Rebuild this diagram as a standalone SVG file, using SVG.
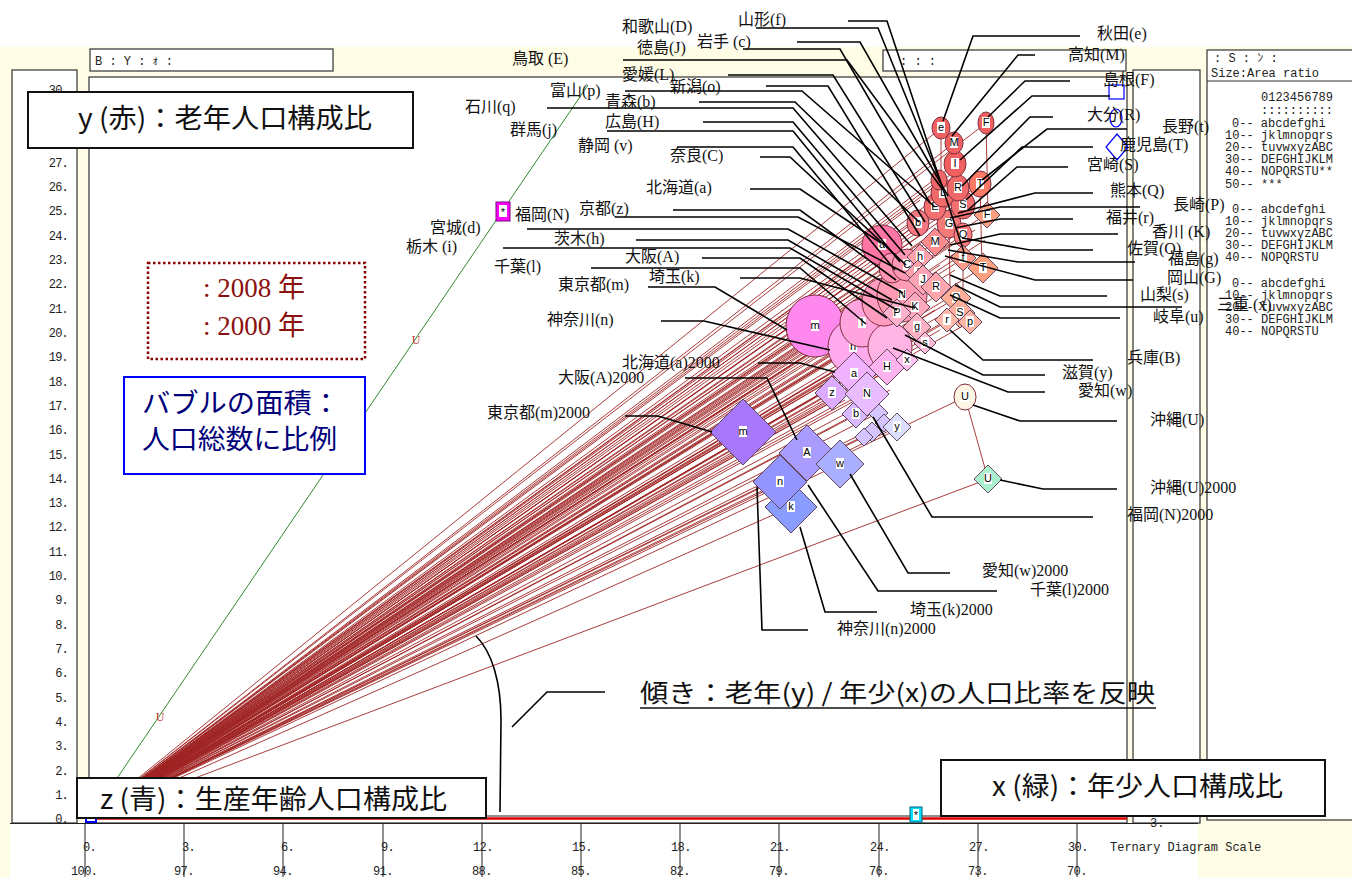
<svg xmlns="http://www.w3.org/2000/svg" width="1352" height="877" viewBox="0 0 1352 877">
<defs>
<style>
.pn{fill:#fff;stroke:#333;stroke-width:1.2}
.ax{font-family:"Liberation Mono","DejaVu Sans Mono",monospace;font-size:12px;fill:#222}
.lg{font-family:"Liberation Mono","Noto Sans CJK JP",monospace;font-size:12px;fill:#222}
.pl{font-family:"Liberation Serif","Noto Sans CJK JP",serif;font-size:16px;fill:#111}
.big{font-family:"Noto Sans CJK JP","Liberation Sans",sans-serif;font-size:27px;fill:#111}
.bx{fill:#fff;stroke:#111;stroke-width:2}
.fan{stroke:#a02525;stroke-width:.9;fill:none}
.ld{stroke:#000;stroke-width:1.6;fill:none}
.c{stroke:#803040;stroke-width:1}
.d{stroke:#604860;stroke-width:1}
.lb{fill:#fff}
.lt{font-family:"Liberation Sans",sans-serif;font-size:11px;fill:#000;text-anchor:middle}
.tk{stroke:#222;stroke-width:1}
</style>
</defs>
<rect x="0" y="0" width="1352" height="877" fill="#fff"/>
<g id="frame">
<rect x="0" y="47" width="1352" height="776" fill="#fffde6"/>
<rect x="1198" y="823" width="154" height="54" fill="#fffde6"/>
<rect x="0" y="823" width="10" height="54" fill="#fffde6"/>
<rect class="pn" x="12" y="70" width="65" height="753"/>
<rect class="pn" x="89" y="77" width="1038" height="746"/>
<rect class="pn" x="90" y="49" width="243" height="22"/>
<rect class="pn" x="883" y="50" width="243" height="21"/>
<rect class="pn" x="1133" y="70" width="67" height="753"/>
<rect class="pn" x="1207" y="50" width="150" height="770"/>
<line x1="1207" y1="81" x2="1352" y2="81" stroke="#333" stroke-width="1.2"/>
<line x1="89" y1="816" x2="1127" y2="816" stroke="#222" stroke-width="1"/>
<line x1="89" y1="818.5" x2="1127" y2="818.5" stroke="#e00000" stroke-width="2.5"/>
<line x1="10" y1="823.5" x2="1198" y2="823.5" stroke="#222" stroke-width="1.2"/>
<text class="lg" x="95" y="65">B : Y : ｫ :</text>
<text class="lg" x="900" y="65">:    :    :</text>
<text class="lg" x="1214" y="62" font-size="11"> : S : ﾝ :</text>
<text class="lg" x="1211" y="77">Size:Area ratio</text>
<text class="lg" x="1150" y="827">3.</text>
</g>
<g id="legend-codes" class="lg">
<text x="1261" y="101">0123456789</text>
<text x="1261" y="114">::::::::::</text>
<text x="1232" y="127">0--  abcdefghi</text>
<text x="1225" y="139">10-- jklmnopqrs</text>
<text x="1225" y="151">20-- tuvwxyzABC</text>
<text x="1225" y="163">30-- DEFGHIJKLM</text>
<text x="1225" y="175">40-- NOPQRSTU**</text>
<text x="1225" y="188">50-- ***</text>
<text x="1232" y="213">0--  abcdefghi</text>
<text x="1225" y="225">10-- jklmnopqrs</text>
<text x="1225" y="237">20-- tuvwxyzABC</text>
<text x="1225" y="249">30-- DEFGHIJKLM</text>
<text x="1225" y="261">40-- NOPQRSTU</text>
<text x="1232" y="287">0--  abcdefghi</text>
<text x="1225" y="299">10-- jklmnopqrs</text>
<text x="1225" y="311">20-- tuvwxyzABC</text>
<text x="1225" y="323">30-- DEFGHIJKLM</text>
<text x="1225" y="335">40-- NOPQRSTU</text>
</g>
<g id="y-axis" class="ax" text-anchor="end" letter-spacing="-0.8">
<text x="68" y="94">30.</text><text x="68" y="118">29.</text><text x="68" y="143">28.</text><text x="68" y="167">27.</text><text x="68" y="191">26.</text><text x="68" y="215">25.</text><text x="68" y="240">24.</text><text x="68" y="264">23.</text><text x="68" y="288">22.</text><text x="68" y="313">21.</text><text x="68" y="337">20.</text><text x="68" y="361">19.</text><text x="68" y="386">18.</text><text x="68" y="410">17.</text><text x="68" y="434">16.</text><text x="68" y="459">15.</text><text x="68" y="483">14.</text><text x="68" y="507">13.</text><text x="68" y="531">12.</text><text x="68" y="556">11.</text><text x="68" y="580">10.</text><text x="68" y="604">9.</text><text x="68" y="629">8.</text><text x="68" y="653">7.</text><text x="68" y="677">6.</text><text x="68" y="702">5.</text><text x="68" y="726">4.</text><text x="68" y="750">3.</text><text x="68" y="775">2.</text><text x="68" y="799">1.</text><text x="68" y="823">0.</text>
</g>
<g id="x-axis">
<path class="tk" d="M85 824V877M184 824V877M283 824V877M383 824V877M482 824V877M581 824V877M680 824V877M779 824V877M879 824V877M978 824V877M1077 824V877"/>
<g class="ax" letter-spacing="-0.6">
<text x="83" y="851">0.</text><text x="182" y="851">3.</text><text x="281" y="851">6.</text><text x="381" y="851">9.</text><text x="473" y="851">12.</text><text x="572" y="851">15.</text><text x="671" y="851">18.</text><text x="770" y="851">21.</text><text x="870" y="851">24.</text><text x="969" y="851">27.</text><text x="1068" y="851">30.</text>
<text x="71" y="875">100.</text><text x="174" y="875">97.</text><text x="273" y="875">94.</text><text x="373" y="875">91.</text><text x="472" y="875">88.</text><text x="571" y="875">85.</text><text x="670" y="875">82.</text><text x="769" y="875">79.</text><text x="869" y="875">76.</text><text x="968" y="875">73.</text><text x="1067" y="875">70.</text>
</g>
<text class="lg" x="1110" y="851">Ternary Diagram Scale</text>
</g>
<g id="fan">
<path class="fan" d="M89 818L815 326M89 818L853 347M89 818L866 324M89 818L890 345M89 818L887 303M89 818L881 243M89 818L902 295M89 818L906 265M89 818L919 223M89 818L955 164M89 818L980 184M89 818L943 193M89 818L963 205M89 818L935 207M89 818L958 188M89 818L949 222M89 818L941 128M89 818L954 143M89 818L986 123M89 818L963 235M89 818L964 258M89 818L939 180M89 818L965 397M89 818L743 432M89 818L807 453M89 818L791 507M89 818L780 482M89 818L840 464M89 818L854 374M89 818L867 394M89 818L887 367M89 818L832 393M89 818L982 268M89 818L856 414M89 818L897 427M89 818L988 479M89 818L934 243M89 818L960 314M89 818L988 213M89 818L920 257M89 818L923 280M89 818L936 287M89 818L956 298M89 818L892 267M89 818L915 307M89 818L897 313M89 818L917 327M89 818L947 320M89 818L970 322M89 818L907 360M89 818L925 343M89 818L878 413M89 818L884 423M89 818L872 432M89 818L864 437M89 818L930 215M89 818L945 230M89 818L925 240M89 818L950 245M89 818L940 265M89 818L955 270M89 818L930 275M89 818L945 300M89 818L935 310M89 818L925 320M89 818L950 310M89 818L940 330M89 818L920 300M89 818L910 280M89 818L895 285M89 818L900 320M89 818L880 330M89 818L875 300M89 818L870 350M89 818L860 360M89 818L905 345M89 818L915 355M89 818L890 390M89 818L875 405M89 818L845 400M89 818L860 395M89 818L920 200M89 818L950 175M89 818L970 195M89 818L975 230M89 818L960 250M89 818L985 240M89 818L918 273M89 818L900 250M89 818L928 230"/>
<path class="fan" d="M986 123L988 213M941 128L941 182M965 397L988 479M980 184L982 268M954 143L954 160M963 235L963 300M949 222L950 290"/>
<line x1="90" y1="818" x2="588" y2="85" stroke="#2e8b2e" stroke-width="1"/>
<text x="160" y="721" font-family="Liberation Serif,serif" font-size="12" fill="#c03030" text-anchor="middle">U</text>
<text x="416" y="344" font-family="Liberation Serif,serif" font-size="12" fill="#c03030" text-anchor="middle">U</text>
</g>
<g id="markers">
<rect x="496" y="202" width="14" height="19" fill="#ff00ff" stroke="#800080"/>
<rect x="499" y="205" width="8" height="12" fill="#fff"/>
<text x="503" y="216" class="lt">*</text>
<rect x="910" y="807" width="12" height="15" fill="#00e0ff" stroke="#006080"/>
<rect x="913" y="809" width="6" height="11" fill="#fff"/>
<text x="916" y="819" class="lt">*</text>
<rect x="86" y="812" width="10" height="10" fill="#fff" stroke="#0000ff" stroke-width="2"/>
<rect x="1109" y="85" width="15" height="14" fill="none" stroke="#0000ff" stroke-width="1.2"/>
<ellipse cx="1116" cy="118" rx="6" ry="9" fill="none" stroke="#0000ff" stroke-width="1.2"/>
<polygon points="1117,134 1128,147 1117,160 1106,147" fill="none" stroke="#0000ff" stroke-width="1.2"/>
</g>
<g id="bubbles2008">
<g id="c-m"><ellipse class="c" cx="815" cy="326" rx="29" ry="31" fill="#ff88ee"/><rect class="lb" x="811" y="320" width="8" height="11"/><text class="lt" x="815" y="329">m</text></g>
<g id="c-n"><ellipse class="c" cx="853" cy="347" rx="25" ry="27" fill="#ffaaee"/><rect class="lb" x="849" y="341" width="8" height="11"/><text class="lt" x="853" y="350">n</text></g>
<g id="c-l"><ellipse class="c" cx="862" cy="323" rx="22" ry="24" fill="#ffa4dc"/><rect class="lb" x="858" y="317" width="8" height="11"/><text class="lt" x="862" y="326">l</text></g>
<g id="c-k"><ellipse class="c" cx="890" cy="347" rx="22" ry="24" fill="#ffb4e4"/></g>
<g id="c-A"><ellipse class="c" cx="884" cy="302" rx="22" ry="24" fill="#ff9cc0"/></g>
<g id="c-N"><ellipse class="c" cx="902" cy="295" rx="25" ry="27" fill="#ff9cb4"/><rect class="lb" x="898" y="289" width="8" height="11"/><text class="lt" x="902" y="298">N</text></g>
<g id="c-a"><ellipse class="c" cx="882" cy="245" rx="20" ry="20" fill="#ff76a6"/><rect class="lb" x="878" y="239" width="8" height="11"/><text class="lt" x="882" y="248">a</text></g>
<g id="c-c"><ellipse class="c" cx="892" cy="268" rx="13" ry="15" fill="#ff94b4"/></g>
<g id="c-C"><ellipse class="c" cx="907" cy="265" rx="15" ry="16" fill="#ff98b4"/><rect class="lb" x="903" y="259" width="8" height="11"/><text class="lt" x="907" y="268">C</text></g>
<g id="c-b"><ellipse class="c" cx="918" cy="223" rx="11" ry="13" fill="#f47880"/><rect class="lb" x="914" y="217" width="8" height="11"/><text class="lt" x="918" y="226">b</text></g>
<g id="c-G"><ellipse class="c" cx="949" cy="224" rx="12" ry="14" fill="#f47a7a"/><rect class="lb" x="945" y="218" width="8" height="11"/><text class="lt" x="949" y="227">G</text></g>
<g id="c-E"><ellipse class="c" cx="935" cy="207" rx="11" ry="13" fill="#f27070"/><rect class="lb" x="931" y="201" width="8" height="11"/><text class="lt" x="935" y="210">E</text></g>
<g id="c-S"><ellipse class="c" cx="963" cy="205" rx="12" ry="14" fill="#f47070"/><rect class="lb" x="959" y="199" width="8" height="11"/><text class="lt" x="963" y="208">S</text></g>
<g id="c-L"><ellipse class="c" cx="943" cy="193" rx="12" ry="14" fill="#f06a6a"/><rect class="lb" x="939" y="187" width="8" height="11"/><text class="lt" x="943" y="196">L</text></g>
<g id="c-R"><ellipse class="c" cx="958" cy="188" rx="11" ry="13" fill="#f06868"/><rect class="lb" x="954" y="182" width="8" height="11"/><text class="lt" x="958" y="191">R</text></g>
<g id="c-T"><ellipse class="c" cx="980" cy="184" rx="11" ry="13" fill="#ff7a66"/><rect class="lb" x="976" y="178" width="8" height="11"/><text class="lt" x="980" y="187">T</text></g>
<g id="c-I"><ellipse class="c" cx="955" cy="164" rx="11" ry="13" fill="#f06060"/><rect class="lb" x="951" y="158" width="8" height="11"/><text class="lt" x="955" y="167">I</text></g>
<g id="c-O"><ellipse class="c" cx="963" cy="235" rx="9" ry="12" fill="#ff8080"/><rect class="lb" x="959" y="229" width="8" height="11"/><text class="lt" x="963" y="238">O</text></g>
<g id="c-i"><ellipse class="c" cx="939" cy="180" rx="8" ry="10" fill="#f06868"/></g>
<g id="c-M"><ellipse class="c" cx="954" cy="143" rx="9" ry="11" fill="#f06060"/><rect class="lb" x="950" y="137" width="8" height="11"/><text class="lt" x="954" y="146">M</text></g>
<g id="c-e"><ellipse class="c" cx="941" cy="128" rx="9" ry="11" fill="#f06060"/><rect class="lb" x="937" y="122" width="8" height="11"/><text class="lt" x="941" y="131">e</text></g>
<g id="c-F"><ellipse class="c" cx="986" cy="123" rx="8" ry="11" fill="#f06060"/><rect class="lb" x="982" y="117" width="8" height="11"/><text class="lt" x="986" y="126">F</text></g>
<g id="c-U"><ellipse class="c" cx="965" cy="397" rx="11" ry="13" fill="#fdf5e4"/><rect class="lb" x="961" y="391" width="8" height="11"/><text class="lt" x="965" y="400">U</text></g>
</g>
<g id="bubbles2000">
<g id="d-k"><polygon class="d" points="791,481 817,507 791,533 765,507" fill="#8a9cff"/><rect class="lb" x="787" y="501" width="8" height="11"/><text class="lt" x="791" y="510">k</text></g>
<g id="d-A"><polygon class="d" points="807,425 835,453 807,481 779,453" fill="#aa9cff"/><rect class="lb" x="803" y="447" width="8" height="11"/><text class="lt" x="807" y="456">A</text></g>
<g id="d-n"><polygon class="d" points="780,455 807,482 780,509 753,482" fill="#9494ff"/><rect class="lb" x="776" y="476" width="8" height="11"/><text class="lt" x="780" y="485">n</text></g>
<g id="d-w"><polygon class="d" points="840,440 864,464 840,488 816,464" fill="#aab0ff"/><rect class="lb" x="836" y="458" width="8" height="11"/><text class="lt" x="840" y="467">w</text></g>
<g id="d-m"><polygon class="d" points="743,399 776,432 743,465 710,432" fill="#a878fa"/><rect class="lb" x="739" y="426" width="8" height="11"/><text class="lt" x="743" y="435">m</text></g>
<g id="d-a"><polygon class="d" points="854,352 876,374 854,396 832,374" fill="#f0b2ff"/><rect class="lb" x="850" y="368" width="8" height="11"/><text class="lt" x="854" y="377">a</text></g>
<g id="d-H"><polygon class="d" points="887,349 905,367 887,385 869,367" fill="#ffb2f0"/><rect class="lb" x="883" y="361" width="8" height="11"/><text class="lt" x="887" y="370">H</text></g>
<g id="d-z"><polygon class="d" points="832,376 849,393 832,410 815,393" fill="#dcaaff"/><rect class="lb" x="828" y="387" width="8" height="11"/><text class="lt" x="832" y="396">z</text></g>
<g id="d-s1"><polygon class="d" points="878,403 888,413 878,423 868,413" fill="#d4c4ff"/></g>
<g id="d-s2"><polygon class="d" points="884,414 893,423 884,432 875,423" fill="#d4c4ff"/></g>
<g id="d-s3"><polygon class="d" points="872,422 882,432 872,442 862,432" fill="#d4c4ff"/></g>
<g id="d-s4"><polygon class="d" points="864,428 873,437 864,446 855,437" fill="#d4c4ff"/></g>
<g id="d-D"><polygon class="d" points="856,400 870,414 856,428 842,414" fill="#d8b8ff"/><rect class="lb" x="852" y="408" width="8" height="11"/><text class="lt" x="856" y="417">b</text></g>
<g id="d-N"><polygon class="d" points="867,372 889,394 867,416 845,394" fill="#e8bcff"/><rect class="lb" x="863" y="388" width="8" height="11"/><text class="lt" x="867" y="397">N</text></g>
<g id="d-y"><polygon class="d" points="897,413 911,427 897,441 883,427" fill="#dcdcff"/><rect class="lb" x="893" y="421" width="8" height="11"/><text class="lt" x="897" y="430">y</text></g>
<g id="d-U"><polygon class="d" points="988,465 1002,479 988,493 974,479" fill="#aaf0cc"/><rect class="lb" x="984" y="473" width="8" height="11"/><text class="lt" x="988" y="482">U</text></g>
<g id="d-T"><polygon class="d" points="983,253 998,268 983,283 968,268" fill="#ffa07e"/><rect class="lb" x="979" y="262" width="8" height="11"/><text class="lt" x="983" y="271">T</text></g>
<g id="d-f"><polygon class="d" points="963,245 976,258 963,271 950,258" fill="#ff9a88"/><rect class="lb" x="959" y="252" width="8" height="11"/><text class="lt" x="963" y="261">f</text></g>
<g id="d-M"><polygon class="d" points="935,228 949,242 935,256 921,242" fill="#ff8c8c"/><rect class="lb" x="931" y="236" width="8" height="11"/><text class="lt" x="935" y="245">M</text></g>
<g id="d-h"><polygon class="d" points="920,244 933,257 920,270 907,257" fill="#ffa0aa"/><rect class="lb" x="916" y="251" width="8" height="11"/><text class="lt" x="920" y="260">h</text></g>
<g id="d-I"><polygon class="d" points="918,260 931,273 918,286 905,273" fill="#ffa2ae"/><rect class="lb" x="914" y="267" width="8" height="11"/><text class="lt" x="918" y="276">I</text></g>
<g id="d-F"><polygon class="d" points="987,202 1000,215 987,228 974,215" fill="#ff9f82"/><rect class="lb" x="983" y="209" width="8" height="11"/><text class="lt" x="987" y="218">F</text></g>
<g id="d-Q"><polygon class="d" points="956,283 971,298 956,313 941,298" fill="#ffae98"/><rect class="lb" x="952" y="292" width="8" height="11"/><text class="lt" x="956" y="301">Q</text></g>
<g id="d-S"><polygon class="d" points="960,298 975,313 960,328 945,313" fill="#ffb09c"/><rect class="lb" x="956" y="307" width="8" height="11"/><text class="lt" x="960" y="316">S</text></g>
<g id="d-J"><polygon class="d" points="923,265 938,280 923,295 908,280" fill="#ffa4b4"/><rect class="lb" x="919" y="274" width="8" height="11"/><text class="lt" x="923" y="283">J</text></g>
<g id="d-R"><polygon class="d" points="936,272 951,287 936,302 921,287" fill="#ffa6ae"/><rect class="lb" x="932" y="281" width="8" height="11"/><text class="lt" x="936" y="290">R</text></g>
<g id="d-K"><polygon class="d" points="915,292 930,307 915,322 900,307" fill="#ffaabc"/><rect class="lb" x="911" y="301" width="8" height="11"/><text class="lt" x="915" y="310">K</text></g>
<g id="d-P"><polygon class="d" points="897,299 911,313 897,327 883,313" fill="#ffb0ca"/><rect class="lb" x="893" y="307" width="8" height="11"/><text class="lt" x="897" y="316">P</text></g>
<g id="d-g"><polygon class="d" points="917,313 931,327 917,341 903,327" fill="#ffb2c4"/><rect class="lb" x="913" y="321" width="8" height="11"/><text class="lt" x="917" y="330">g</text></g>
<g id="d-r"><polygon class="d" points="947,308 959,320 947,332 935,320" fill="#ffb8aa"/><rect class="lb" x="943" y="314" width="8" height="11"/><text class="lt" x="947" y="323">r</text></g>
<g id="d-p"><polygon class="d" points="970,310 982,322 970,334 958,322" fill="#ffb4a4"/><rect class="lb" x="966" y="316" width="8" height="11"/><text class="lt" x="970" y="325">p</text></g>
<g id="d-x"><polygon class="d" points="907,349 918,360 907,371 896,360" fill="#ffc2f0"/><rect class="lb" x="903" y="354" width="8" height="11"/><text class="lt" x="907" y="363">x</text></g>
<g id="d-s"><polygon class="d" points="925,332 936,343 925,354 914,343" fill="#ffbad8"/><rect class="lb" x="921" y="337" width="8" height="11"/><text class="lt" x="925" y="346">s</text></g>
</g>
<g id="connectors" class="ld">
<polyline points="848,21 887,21 964,252"/>
<polyline points="756,28 878,28 939,178"/>
<polyline points="797,42 860,42 948,196"/>
<polyline points="743,49 840,49 930,203"/>
<polyline points="623,60 847,60 943,190"/>
<polyline points="728,75 833,75 925,222"/>
<polyline points="766,86 828,86 920,236"/>
<polyline points="625,91 802,91 935,207"/>
<polyline points="699,102 795,102 919,222"/>
<polyline points="547,108 793,108 912,246"/>
<polyline points="703,122 793,122 905,255"/>
<polyline points="607,131 793,131 900,262"/>
<polyline points="677,147 793,147 895,270"/>
<polyline points="760,157 790,157 906,265"/>
<polyline points="750,189 800,189 881,243"/>
<polyline points="673,210 800,210 896,280"/>
<polyline points="615,217 798,217 905,273"/>
<polyline points="527,229 788,229 903,293"/>
<polyline points="636,240 788,240 892,300"/>
<polyline points="503,248 790,248 897,310"/>
<polyline points="702,258 800,258 887,318"/>
<polyline points="591,268 800,268 866,324"/>
<polyline points="740,278 800,278 915,308"/>
<polyline points="648,287 715,287 787,330"/>
<polyline points="661,321 704,321 830,350"/>
<polyline points="758,363 800,363 835,372"/>
<polyline points="685,378 767,378 797,440"/>
<polyline points="625,416 658,416 712,432"/>
<polyline points="1080,36 973,36 943,121"/>
<polyline points="1035,55 1018,55 952,136"/>
<polyline points="1070,81 1025,81 988,117"/>
<polyline points="1110,96 1032,96 960,160"/>
<polyline points="1053,117 1030,117 962,186"/>
<polyline points="1127,129 1047,129 982,180"/>
<polyline points="1093,147 1022,147 966,200"/>
<polyline points="1068,167 1017,167 968,210"/>
<polyline points="1093,193 1035,193 958,213"/>
<polyline points="1140,207 1000,207 950,218"/>
<polyline points="1073,219 1000,219 955,228"/>
<polyline points="1118,234 1000,234 950,245"/>
<polyline points="1093,250 1030,250 962,238"/>
<polyline points="1135,262 1018,262 948,250"/>
<polyline points="1133,280 1035,280 945,256"/>
<polyline points="1107,296 1000,296 950,275"/>
<polyline points="1182,307 1000,307 955,285"/>
<polyline points="1120,318 1000,318 950,295"/>
<polyline points="1093,360 983,360 950,330"/>
<polyline points="1045,375 983,375 905,335"/>
<polyline points="1045,392 1008,392 893,348"/>
<polyline points="1117,421 1020,421 973,405"/>
<polyline points="1117,489 1043,489 1000,480"/>
<polyline points="1093,517 932,517 873,417"/>
<polyline points="950,573 908,573 850,474"/>
<polyline points="997,591 878,591 808,485"/>
<polyline points="877,612 825,612 800,527"/>
<polyline points="808,630 762,630 757,487"/>
<polyline points="512,727 547,692 605,692"/>
<path d="M476 636C492 652 501 682 501 720L500 812"/>
</g>
<g id="labels" class="pl">
<text x="622" y="32">和歌山(D)</text>
<text x="738" y="25">山形(f)</text>
<text x="697" y="47">岩手  (c)</text>
<text x="637" y="53">徳島(J)</text>
<text x="512" y="64">鳥取  (E)</text>
<text x="622" y="80">愛媛(L)</text>
<text x="670" y="92">新潟(o)</text>
<text x="550" y="96">富山(p)</text>
<text x="605" y="107">青森(b)</text>
<text x="465" y="112">石川(q)</text>
<text x="605" y="127">広島(H)</text>
<text x="510" y="135">群馬(j)</text>
<text x="578" y="151">静岡  (v)</text>
<text x="670" y="161">奈良(C)</text>
<text x="646" y="193">北海道(a)</text>
<text x="579" y="214">京都(z)</text>
<text x="515" y="220">福岡(N)</text>
<text x="430" y="233">宮城(d)</text>
<text x="406" y="252">栃木  (i)</text>
<text x="554" y="244">茨木(h)</text>
<text x="625" y="262">大阪(A)</text>
<text x="494" y="272">千葉(l)</text>
<text x="649" y="282">埼玉(k)</text>
<text x="558" y="290">東京都(m)</text>
<text x="547" y="325">神奈川(n)</text>
<text x="622" y="368">北海道(a)2000</text>
<text x="558" y="383">大阪(A)2000</text>
<text x="487" y="418">東京都(m)2000</text>
<text x="1097" y="39">秋田(e)</text>
<text x="1068" y="60">高知(M)</text>
<text x="1103" y="85">島根(F)</text>
<text x="1087" y="120">大分(R)</text>
<text x="1162" y="132">長野(t)</text>
<text x="1120" y="150">鹿児島(T)</text>
<text x="1087" y="170">宮崎(S)</text>
<text x="1110" y="196">熊本(Q)</text>
<text x="1173" y="210">長崎(P)</text>
<text x="1106" y="223">福井(r)</text>
<text x="1152" y="237">香川  (K)</text>
<text x="1127" y="254">佐賀(O)</text>
<text x="1168" y="264">福島(g)</text>
<text x="1167" y="283">岡山(G)</text>
<text x="1140" y="300">山梨(s)</text>
<text x="1217" y="310">三重  (x)</text>
<text x="1153" y="322">岐阜(u)</text>
<text x="1127" y="363">兵庫(B)</text>
<text x="1062" y="378">滋賀(y)</text>
<text x="1078" y="396">愛知(w)</text>
<text x="1150" y="425">沖縄(U)</text>
<text x="1150" y="493">沖縄(U)2000</text>
<text x="1127" y="520">福岡(N)2000</text>
<text x="982" y="576">愛知(w)2000</text>
<text x="1030" y="595">千葉(l)2000</text>
<text x="910" y="615">埼玉(k)2000</text>
<text x="837" y="634">神奈川(n)2000</text>
</g>
<g id="note-y">
<rect class="bx" x="28" y="92" width="385" height="56"/>
<text class="big" x="78" y="128" textLength="294" lengthAdjust="spacingAndGlyphs">y (赤)：老年人口構成比</text>
</g>
<g id="note-z">
<rect class="bx" x="77" y="778" width="409" height="40"/>
<text class="big" x="100" y="809" textLength="347" lengthAdjust="spacingAndGlyphs">z (青)：生産年齢人口構成比</text>
</g>
<g id="note-x">
<rect class="bx" x="941" y="760" width="384" height="56"/>
<text class="big" x="992" y="796" textLength="291" lengthAdjust="spacingAndGlyphs">x (緑)：年少人口構成比</text>
</g>
<g id="note-year">
<rect x="148" y="263" width="217" height="96" fill="#fff" stroke="#8b0000" stroke-width="2.5" stroke-dasharray="2.5,2.5"/>
<text x="203" y="297" font-family="Liberation Serif,Noto Sans CJK JP,serif" font-size="27" fill="#8b1010">: 2008 年</text>
<text x="203" y="335" font-family="Liberation Serif,Noto Sans CJK JP,serif" font-size="27" fill="#8b1010">: 2000 年</text>
</g>
<g id="note-bubble">
<rect x="124" y="377" width="241" height="97" fill="#fff" stroke="#0000ff" stroke-width="2"/>
<text x="142" y="413" font-family="Noto Sans CJK JP,sans-serif" font-size="27" fill="#00007a" textLength="198" lengthAdjust="spacingAndGlyphs">バブルの面積：</text>
<text x="142" y="449" font-family="Noto Sans CJK JP,sans-serif" font-size="27" fill="#00007a" textLength="195" lengthAdjust="spacingAndGlyphs">人口総数に比例</text>
</g>
<g id="note-slope">
<text x="640" y="702" font-family="Noto Sans CJK JP,sans-serif" font-size="25" fill="#111" textLength="515" lengthAdjust="spacingAndGlyphs">傾き：老年(y) / 年少(x)の人口比率を反映</text>
<line x1="640" y1="708" x2="1156" y2="708" stroke="#111" stroke-width="1.5"/>
</g>
</svg>
